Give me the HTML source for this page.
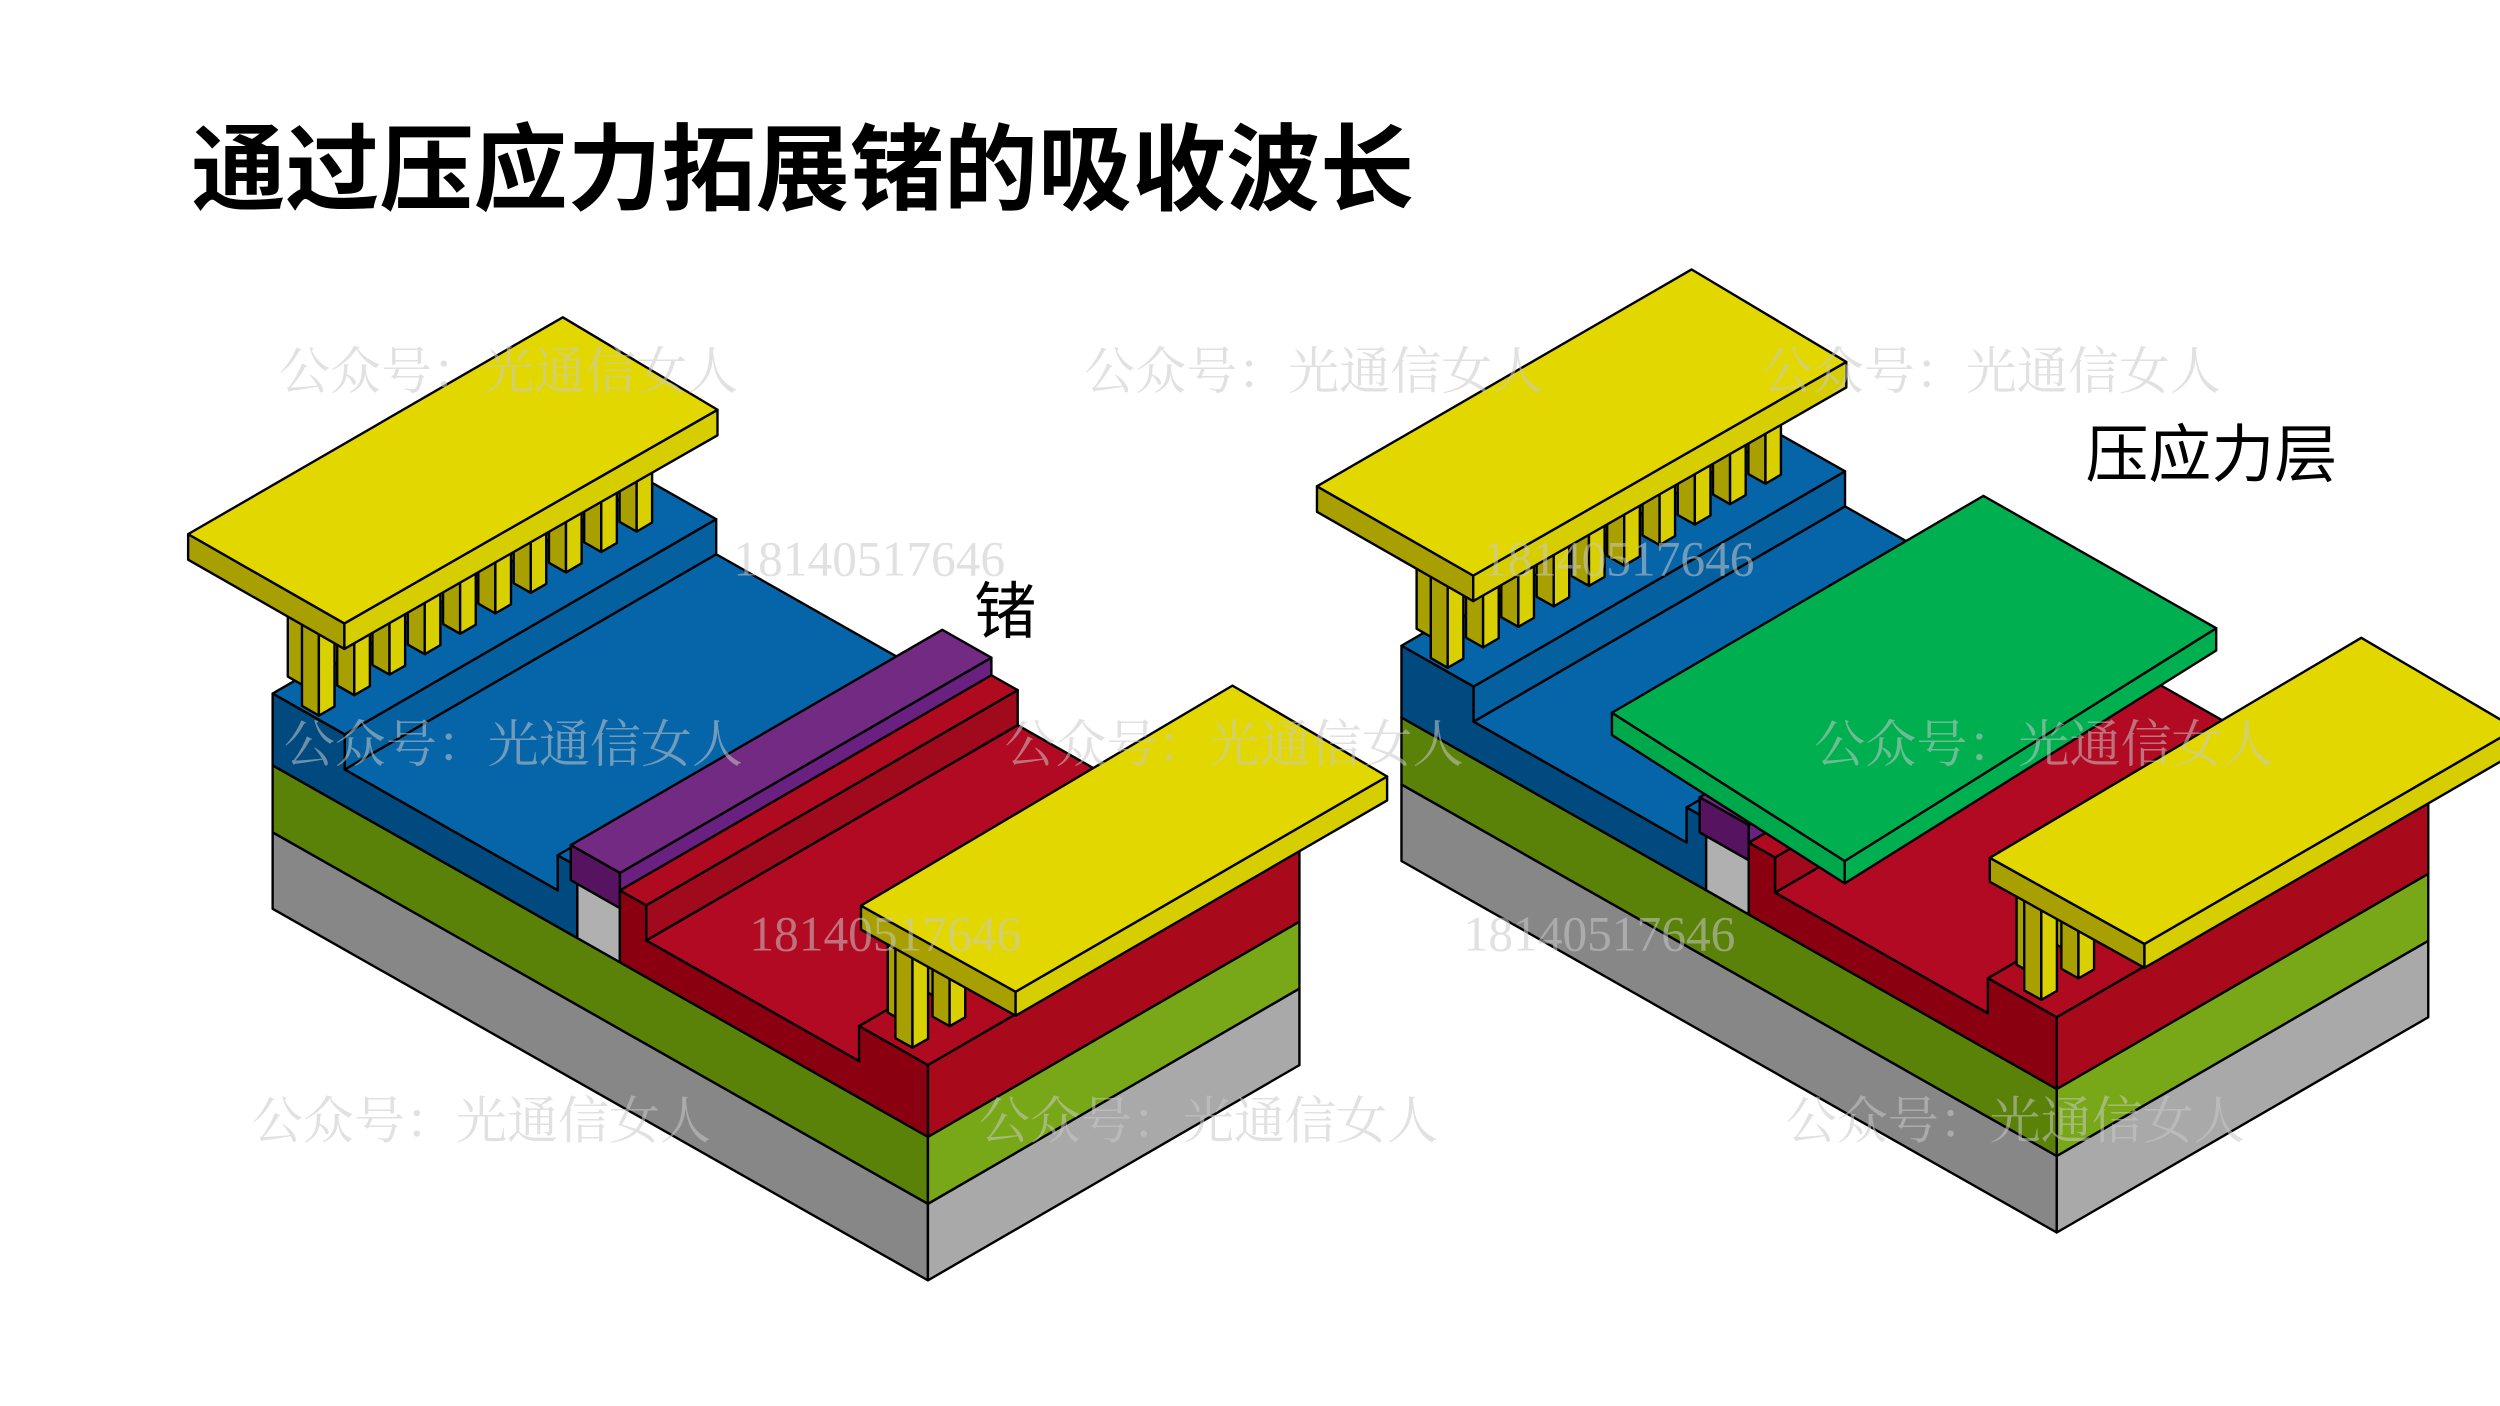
<!DOCTYPE html>
<html><head><meta charset="utf-8">
<style>
html,body{margin:0;padding:0;background:#fff;}
svg{display:block;}
</style></head>
<body>
<svg id="s" xmlns="http://www.w3.org/2000/svg" width="2500" height="1406" viewBox="0 0 1568 881.8" preserveAspectRatio="none">
<rect width="1568" height="882" fill="#fff"/>
<g id="dev"></g>
<text x="120" y="127" font-family="'Noto Sans CJK SC','WenQuanYi Zen Hei',sans-serif" font-weight="bold" font-size="59" fill="#000">通过压应力拓展锗的吸收波长</text>
<text x="611" y="397" font-family="'Noto Sans CJK SC',sans-serif" font-size="39" fill="#000">锗</text>
<text x="1308" y="299" font-family="'Noto Sans CJK SC',sans-serif" font-size="39.5" fill="#000">压应力层</text>
<g font-family="'Noto Serif CJK SC','Noto Sans CJK SC',serif" font-size="32" fill="#c8c8c8" fill-opacity="0.55">
<text x="175" y="244">公众号：光通信女人</text>
<text x="680" y="244">公众号：光通信女人</text>
<text x="1105" y="244">公众号：光通信女人</text>
<text x="178" y="478">公众号：光通信女人</text>
<text x="630" y="478">公众号：光通信女人</text>
<text x="1138" y="478">公众号：光通信女人</text>
<text x="158" y="714">公众号：光通信女人</text>
<text x="614" y="714">公众号：光通信女人</text>
<text x="1120" y="714">公众号：光通信女人</text>
</g>
<g font-family="'Liberation Serif',serif" font-size="31" fill="#c8c8c8" fill-opacity="0.55">
<text x="460" y="361">18140517646</text>
<text x="470" y="596">18140517646</text>
<text x="930" y="361">18140517646</text>
<text x="918" y="596">18140517646</text>
</g>
</svg>
<script>
(function(){
var NS="http://www.w3.org/2000/svg";
var root=document.getElementById("dev");
var DX=0,DY=0;
function P(a,b,h){return [582-411*a+233*b+DX, 803-233*a-135*b-h+DY];}
function poly(pts,fill){
  var p=document.createElementNS(NS,"polygon");
  p.setAttribute("points",pts.map(function(q){return q[0].toFixed(1)+","+q[1].toFixed(1);}).join(" "));
  p.setAttribute("fill",fill);p.setAttribute("stroke","#000");
  p.setAttribute("stroke-width","1.5");p.setAttribute("stroke-linejoin","round");
  root.appendChild(p);
}
function left(a0,a1,h0,h1,c){poly([P(a0,0,h0),P(a1,0,h0),P(a1,0,h1),P(a0,0,h1)],c);}
function aface(a,b0,b1,h0,h1,c){poly([P(a,b0,h0),P(a,b1,h0),P(a,b1,h1),P(a,b0,h1)],c);}
function top(a0,a1,b0,b1,h,c){poly([P(a0,b0,h),P(a1,b0,h),P(a1,b1,h),P(a0,b1,h)],c);}
function prof(list,c){poly(list.map(function(q){return P(q[0],0,q[1]);}),c);}
function off(pts){return pts.map(function(q){return [q[0]+DX,q[1]+DY];});}
function pad(A,B,C,D,t,cl,cs,ct){
  poly(off([A,D,[D[0],D[1]+t],[A[0],A[1]+t]]),cs);
  poly(off([D,C,[C[0],C[1]+t],[D[0],D[1]+t]]),cl);
  poly(off([A,B,C,D]),ct||"#e2d800");
}
function pillar(a,b,h,H){
  var F=P(a,b,h);
  var L=[F[0]-411*0.026,F[1]-233*0.026];
  var R=[F[0]+233*0.042,F[1]-135*0.042];
  poly([L,F,[F[0],F[1]-H],[L[0],L[1]-H]],"#a8a000");
  poly([F,R,[R[0],R[1]-H],[F[0],F[1]-H]],"#d8d000");
}
function device(pb,plate){
  left(0,1,0,48,"#878787"); aface(0,0,1,0,48,"#a9a9a9");
  left(0,1,48,90,"#5a8208"); aface(0,0,1,48,90,"#78a818");
  top(0.565,0.89,0,1,113,"#0565a8");
  aface(0.89,0,1,113,135,"#0560a0");
  top(0.89,1,0,1,135,"#0565a8");
  aface(0.535,0,1,90,135,"#045a98");
  top(0.535,0.565,0,1,135,"#0565a8");
  prof([[1,90],[1,135],[0.89,135],[0.89,113],[0.565,113],[0.565,135],[0.535,135],[0.535,90]],"#004a80");
  left(0.47,0.535,90,124,"#b0b0b0");
  aface(0.47,0,pb,124,146,"#6a2080");
  top(0.47,0.545,0,pb,146,"#722a82");
  left(0.47,0.545,124,146,"#561360");
  top(0.105,0.43,0,1,113,"#b20a22");
  aface(0.43,0,1,113,135,"#a00a1c");
  top(0.43,0.47,0,1,135,"#b00a20");
  top(0,0.105,0,1,135,"#b00a20");
  aface(0,0,1,90,135,"#a80a1c");
  prof([[0.47,90],[0.47,135],[0.43,135],[0.43,113],[0.105,113],[0.105,135],[0,135],[0,90]],"#8a0010");
  var i;
  for(i=0;i<10;i++){pillar(0.985,0.06+i*0.095,135,72);}
  for(i=0;i<10;i++){pillar(0.935,0.01+i*0.095,135,80);}
  if(plate){
    var g=[[1011,447],[1244,311],[1390,394],[1157,540]].map(function(q){return [q[0]-708,q[1]+30];});
    pad(g[0],g[1],g[2],g[3],14,"#00b050","#00a84c","#00b050");
  }
  pad([118,335],[353,199],[450,257],[216,391],16,"#d6ce00","#a8a000");
  pillar(0.075,0.07,135,75); pillar(0.075,0.17,135,75);
  pillar(0.035,0.02,135,75); pillar(0.035,0.12,135,75);
  pad([540,568],[773,430],[870,487],[637,622],15,"#d6ce00","#a8a000");
}
DX=0;DY=0;device(1,false);
DX=708;DY=-30;device(0.12,true);
})();
</script>
</body></html>
